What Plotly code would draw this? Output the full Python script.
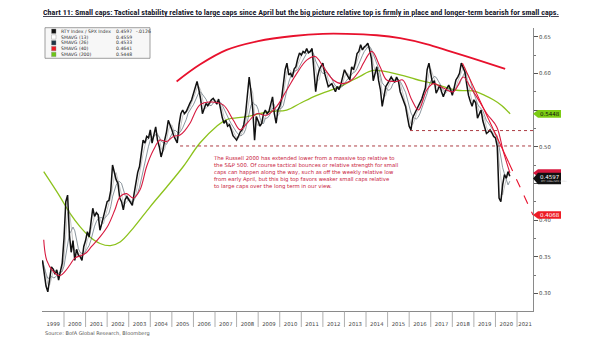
import plotly.graph_objects as go
import pandas as pd

# ---------------- data ----------------
rel_start = 1999  # monthly values, Jan 1999 ..
rel_values = [
    0.345, 0.325, 0.310, 0.302, 0.322, 0.336, 0.333, 0.326, 0.332, 0.318, 0.330, 0.341,  # 1999
    0.375, 0.425, 0.434, 0.380, 0.356, 0.372, 0.345, 0.360, 0.352, 0.350, 0.345, 0.364,  # 2000
    0.372, 0.384, 0.377, 0.395, 0.416, 0.405, 0.410, 0.407, 0.386, 0.395, 0.405, 0.418,  # 2001
    0.425, 0.427, 0.440, 0.475, 0.464, 0.455, 0.450, 0.430, 0.425, 0.414, 0.428, 0.432,  # 2002
    0.428, 0.423, 0.420, 0.436, 0.450, 0.465, 0.473, 0.490, 0.509, 0.505, 0.514, 0.512,  # 2003
    0.523, 0.505, 0.518, 0.527, 0.509, 0.500, 0.486, 0.495, 0.509, 0.520, 0.536, 0.530,  # 2004
    0.523, 0.515, 0.509, 0.505, 0.530, 0.545, 0.550, 0.545, 0.548, 0.555, 0.559, 0.564,  # 2005
    0.573, 0.580, 0.589, 0.578, 0.565, 0.545, 0.552, 0.559, 0.556, 0.561, 0.564, 0.566,  # 2006
    0.562, 0.558, 0.565, 0.550, 0.540, 0.532, 0.536, 0.528, 0.530, 0.523, 0.515, 0.512,  # 2007
    0.509, 0.514, 0.520, 0.523, 0.530, 0.545, 0.570, 0.595, 0.575, 0.550, 0.509, 0.541,  # 2008
    0.535, 0.528, 0.532, 0.545, 0.550, 0.545, 0.548, 0.560, 0.568, 0.545, 0.532, 0.550,  # 2009
    0.555, 0.565, 0.590, 0.605, 0.614, 0.598, 0.600, 0.595, 0.606, 0.609, 0.620, 0.628,  # 2010
    0.625, 0.630, 0.628, 0.634, 0.628, 0.630, 0.634, 0.600, 0.575, 0.595, 0.605, 0.610,  # 2011
    0.614, 0.600, 0.591, 0.582, 0.584, 0.586, 0.580, 0.575, 0.582, 0.578, 0.585, 0.595,  # 2012
    0.605, 0.600, 0.595, 0.591, 0.609, 0.605, 0.614, 0.627, 0.630, 0.639, 0.632, 0.636,  # 2013
    0.638, 0.641, 0.632, 0.620, 0.590, 0.600, 0.609, 0.590, 0.578, 0.555, 0.572, 0.582,  # 2014
    0.586, 0.590, 0.595, 0.591, 0.588, 0.595, 0.590, 0.575, 0.568, 0.561, 0.555, 0.541,  # 2015
    0.528, 0.523, 0.540, 0.545, 0.550, 0.555, 0.559, 0.565, 0.573, 0.580, 0.605, 0.614,  # 2016
    0.600, 0.586, 0.590, 0.573, 0.578, 0.584, 0.575, 0.568, 0.575, 0.580, 0.584, 0.578,  # 2017
    0.570, 0.580, 0.591, 0.595, 0.600, 0.614, 0.608, 0.602, 0.585, 0.570, 0.562, 0.555,  # 2018
    0.564, 0.560, 0.539, 0.545, 0.550, 0.535, 0.527, 0.518, 0.520, 0.523, 0.519, 0.514,  # 2019
    0.512, 0.500, 0.430, 0.425, 0.448, 0.462, 0.457, 0.466, 0.4597,                      # 2020
]

sma40_t = [1999.06, 1999.2, 1999.5, 1999.81, 2000.05, 2000.28, 2000.5, 2000.82, 2001.02, 2001.28,
           2001.67, 2002.05, 2002.36, 2002.6, 2002.9, 2003.21, 2003.52, 2003.83, 2004.14, 2004.45,
           2004.76, 2005.07, 2005.38, 2005.6, 2005.84, 2006.3, 2006.77, 2007.38, 2007.85, 2008.16,
           2008.54, 2008.93, 2009.4, 2009.86, 2010.32, 2010.79, 2011.25, 2011.64, 2012.02, 2012.48,
           2012.87, 2013.33, 2013.72, 2013.88, 2014.27, 2014.65, 2014.96, 2015.42, 2015.7, 2016.12,
           2016.43, 2016.81, 2017.12, 2017.58, 2018.05, 2018.51, 2018.82, 2019.13, 2019.6, 2020.06,
           2020.35, 2020.67]
sma40_v = [0.373, 0.345, 0.330, 0.324, 0.330, 0.339, 0.348, 0.352, 0.355, 0.364,
           0.377, 0.393, 0.414, 0.432, 0.436, 0.430, 0.441, 0.473, 0.495, 0.509,
           0.507, 0.514, 0.516, 0.522, 0.532, 0.557, 0.561, 0.557, 0.536, 0.523,
           0.534, 0.545, 0.543, 0.555, 0.577, 0.600, 0.618, 0.623, 0.609, 0.591,
           0.586, 0.591, 0.605, 0.614, 0.630, 0.609, 0.591, 0.589, 0.591, 0.564,
           0.550, 0.577, 0.586, 0.580, 0.575, 0.595, 0.582, 0.568, 0.545, 0.527,
           0.495, 0.4641]

sma200_t = [1999.06, 1999.81, 2000.28, 2000.74, 2001.2, 2001.67, 2002.15, 2002.6, 2003.21, 2003.99,
            2004.76, 2005.53, 2006.3, 2007.08, 2007.54, 2008.47, 2009.55, 2010.32, 2011.0, 2011.72,
            2012.8, 2013.26, 2013.72, 2014.34, 2015.58, 2016.3, 2017.12, 2018.2, 2018.98, 2019.5,
            2019.9, 2020.3, 2020.68]
sma200_v = [0.466, 0.432, 0.409, 0.391, 0.377, 0.368, 0.365, 0.370, 0.389, 0.418,
            0.445, 0.473, 0.505, 0.528, 0.537, 0.541, 0.548, 0.550, 0.560, 0.570,
            0.582, 0.589, 0.596, 0.604, 0.598, 0.592, 0.586, 0.577, 0.576, 0.570,
            0.564, 0.556, 0.5448]

arc_t = [2005.22, 2006.3, 2007.54, 2009.0, 2010.63, 2012.0, 2013.1, 2014.5, 2015.58, 2016.8,
         2017.9, 2019.2, 2020.45]
arc_v = [0.589, 0.612, 0.632, 0.644, 0.651, 0.654, 0.654, 0.652, 0.648, 0.640,
         0.630, 0.618, 0.606]

support_start = [2005.38, 2016.04]
support_level = [0.501, 0.522]

trend_solid_t = [2018.47, 2020.62]
trend_solid_v = [0.614, 0.478]
trend_dash_t = [2020.62, 2021.74]
trend_dash_v = [0.478, 0.4068]

years = list(range(1999, 2022))
y_ticks = [0.30, 0.35, 0.40, 0.45, 0.50, 0.55, 0.60, 0.65]
y_hidden = [0.45, 0.55]  # covered by the value tags in the reference

legend_names = ["RTY Index / SPX Index", "SMAVG (13)", "SMAVG (26)", "SMAVG (40)", "SMAVG (200)"]
legend_vals = ["0.4597", "0.4559", "0.4533", "0.4641", "0.5448"]
legend_change = "-.0126"

tag_green = 0.5448
tag_sma40 = 0.4641
tag_last = 0.4597
tag_trend = 0.4068

title = ("Chart 11: Small caps: Tactical stability relative to large caps since April but the big "
         "picture relative top is firmly in place and longer-term bearish for small caps.")
note = ("The Russell 2000 has extended lower from a massive top relative to<br>"
        "the S&P 500. Of course tactical bounces or relative strength for small<br>"
        "caps can happen along the way, such as off the weekly relative low<br>"
        "from early April, but this big top favors weaker small caps relative<br>"
        "to large caps over the long term in our view.")
source = "Source: BofA Global Research, Bloomberg"

# ---------------- styles ----------------
BLACK = "#111111"
CRIMSON = "#d7193f"
RED = "#e8112d"
GREEN = "#8cc21c"
DOT = "#a3262e"
FONT = "DejaVu Sans"

W, H = 605, 341
L, R, T, B = 42, 72, 28, 30
PW, PH = W - L - R, H - T - B
X0, X1 = 1998.98, 2021.74
Y0, Y1 = 0.2759, 0.6619


def px(xp):
    return (xp - L) / PW


def py(yp):
    return (H - B - yp) / PH


rel_t = [rel_start + i / 12 for i in range(len(rel_values))]
rel_s = pd.Series(rel_values)
sma13 = rel_s.rolling(3, min_periods=1).mean()
sma26 = rel_s.rolling(6, min_periods=1).mean()

fig = go.Figure()
fig.add_trace(go.Scatter(x=sma200_t, y=sma200_v, mode="lines", line=dict(color=GREEN, width=1.3, shape="spline")))
fig.add_trace(go.Scatter(x=rel_t, y=sma26, mode="lines", line=dict(color="#3d4f5c", width=0.6)))
fig.add_trace(go.Scatter(x=rel_t, y=sma13, mode="lines", line=dict(color="#9a9a9a", width=0.6)))
fig.add_trace(go.Scatter(x=rel_t, y=rel_values, mode="lines", line=dict(color=BLACK, width=1.5)))
fig.add_trace(go.Scatter(x=sma40_t, y=sma40_v, mode="lines", line=dict(color=CRIMSON, width=1.1, shape="spline")))
fig.add_trace(go.Scatter(x=arc_t, y=arc_v, mode="lines", line=dict(color=RED, width=1.8, shape="spline")))
for s, lv in zip(support_start, support_level):
    fig.add_trace(go.Scatter(x=[s, X1], y=[lv, lv], mode="lines", line=dict(color=DOT, width=0.9, dash="dot")))
fig.add_trace(go.Scatter(x=trend_solid_t, y=trend_solid_v, mode="lines", line=dict(color=RED, width=1.1)))
fig.add_trace(go.Scatter(x=trend_dash_t, y=trend_dash_v, mode="lines", line=dict(color=RED, width=1.1, dash="dash")))

shapes = []
annos = []


def tag(v, color, txt, tcolor, half=0.0052, sub=None):
    xa, xb, xc = 1.0, px(L + PW + 5), px(L + PW + 28)
    path = (f"M {xa},{v} L {xb},{v + half} L {xc},{v + half} L {xc},{v - half} "
            f"L {xb},{v - half} Z")
    shapes.append(dict(type="path", xref="paper", yref="y", path=path, fillcolor=color,
                       line=dict(width=0), layer="above"))
    if txt:
        annos.append(dict(xref="paper", yref="y", x=px(L + PW + 5), y=v + (0.0015 if sub else 0),
                          text=txt, showarrow=False, xanchor="left", yanchor="middle",
                          font=dict(family=FONT, size=5.5, color=tcolor)))
    if sub:
        annos.append(dict(xref="paper", yref="y", x=px(L + PW + 6), y=v - 0.0045, text=sub,
                          showarrow=False, xanchor="left", yanchor="middle",
                          font=dict(family=FONT, size=2.5, color="#dddddd")))


tag(tag_green, "#7ccc14", f"{tag_green:.4f}", "#111111")
tag(tag_sma40, CRIMSON, "", "#ffffff")
tag(tag_last - 0.003, "#111111", f"{tag_last:.4f}", "#ffffff", half=0.0078, sub="RTY Index/SPX Index")
tag(tag_trend, "#ee1c25", f"{tag_trend:.4f}", "#ffffff")

# year separators below the axis
for yr in years[1:]:
    shapes.append(dict(type="line", xref="x", yref="paper", x0=yr, x1=yr, y0=0, y1=py(H - B + 16),
                       line=dict(color="#9a9a9a", width=0.8)))

# legend box
lx0, lx1, ly0, ly1 = 45, 150, 27.7, 58.3
shapes.append(dict(type="rect", xref="paper", yref="paper", x0=px(lx0), x1=px(lx1), y0=py(ly1), y1=py(ly0),
                   fillcolor="#f7f7f7", line=dict(color="#777777", width=0.7), layer="above"))
swatch_colors = ["#111111", "#ffffff", "#1f3545", "#ee1c25", "#6cc417"]
for i, (nm, val, sc) in enumerate(zip(legend_names, legend_vals, swatch_colors)):
    yc = 31.2 + i * 5.8
    shapes.append(dict(type="rect", xref="paper", yref="paper", x0=px(51.5), x1=px(56), y0=py(yc + 2.2),
                       y1=py(yc - 2.2), fillcolor=sc, line=dict(color="#888888", width=0.4), layer="above"))
    annos.append(dict(xref="paper", yref="paper", x=px(58.5), y=py(yc), text=nm, showarrow=False,
                      xanchor="left", yanchor="middle", font=dict(family=FONT, size=4.6, color="#333333")))
    annos.append(dict(xref="paper", yref="paper", x=px(114), y=py(yc), text=val, showarrow=False,
                      xanchor="left", yanchor="middle", font=dict(family=FONT, size=4.6, color="#333333")))
annos.append(dict(xref="paper", yref="paper", x=px(134), y=py(31.2), text=legend_change, showarrow=False,
                  xanchor="left", yanchor="middle", font=dict(family=FONT, size=4.6, color="#333333")))

# note text
annos.append(dict(xref="paper", yref="paper", x=px(211), y=py(152.5), text=note, showarrow=False,
                  xanchor="left", yanchor="top", align="left",
                  font=dict(family=FONT, size=5.3, color="#c8193c")))

# title and source
annos.append(dict(xref="paper", yref="paper", x=px(41), y=py(11.5), text=f"<u><b>{title}</b></u>",
                  showarrow=False, xanchor="left", yanchor="middle",
                  font=dict(family="Liberation Sans Narrow, Roboto Condensed, Liberation Sans, sans-serif",
                            size=8.1, color="#1a1a2e")))
annos.append(dict(xref="paper", yref="paper", x=px(43), y=py(333), text=source, showarrow=False,
                  xanchor="left", yanchor="middle", font=dict(family=FONT, size=5, color="#555555")))

label_pos = [yr + 0.5 for yr in years[:-1]] + [(years[-1] + X1) / 2]

fig.update_layout(
    width=W, height=H, margin=dict(l=L, r=R, t=T, b=B),
    paper_bgcolor="white", plot_bgcolor="white", showlegend=False,
    shapes=shapes, annotations=annos,
    xaxis=dict(range=[X0, X1], tickvals=label_pos, ticktext=[str(y) for y in years],
               ticks="", showgrid=False, zeroline=False, showline=True, linecolor="#8a8a8a", linewidth=1,
               tickfont=dict(family=FONT, size=5.3, color="#444444"), ticklabelstandoff=8),
    yaxis=dict(range=[Y0, Y1], side="right", tickvals=y_ticks,
               ticktext=["" if v in y_hidden else f"{v:.2f}" for v in y_ticks],
               ticks="outside", ticklen=4, tickcolor="#555555", showgrid=False, zeroline=False,
               showline=True, linecolor="#8a8a8a", linewidth=1,
               minor=dict(ticks="outside", ticklen=2, dtick=0.025, tick0=0.275, tickcolor="#777777"),
               tickfont=dict(family=FONT, size=5.3, color="#444444")),
)

fig.write_html("out.html")
